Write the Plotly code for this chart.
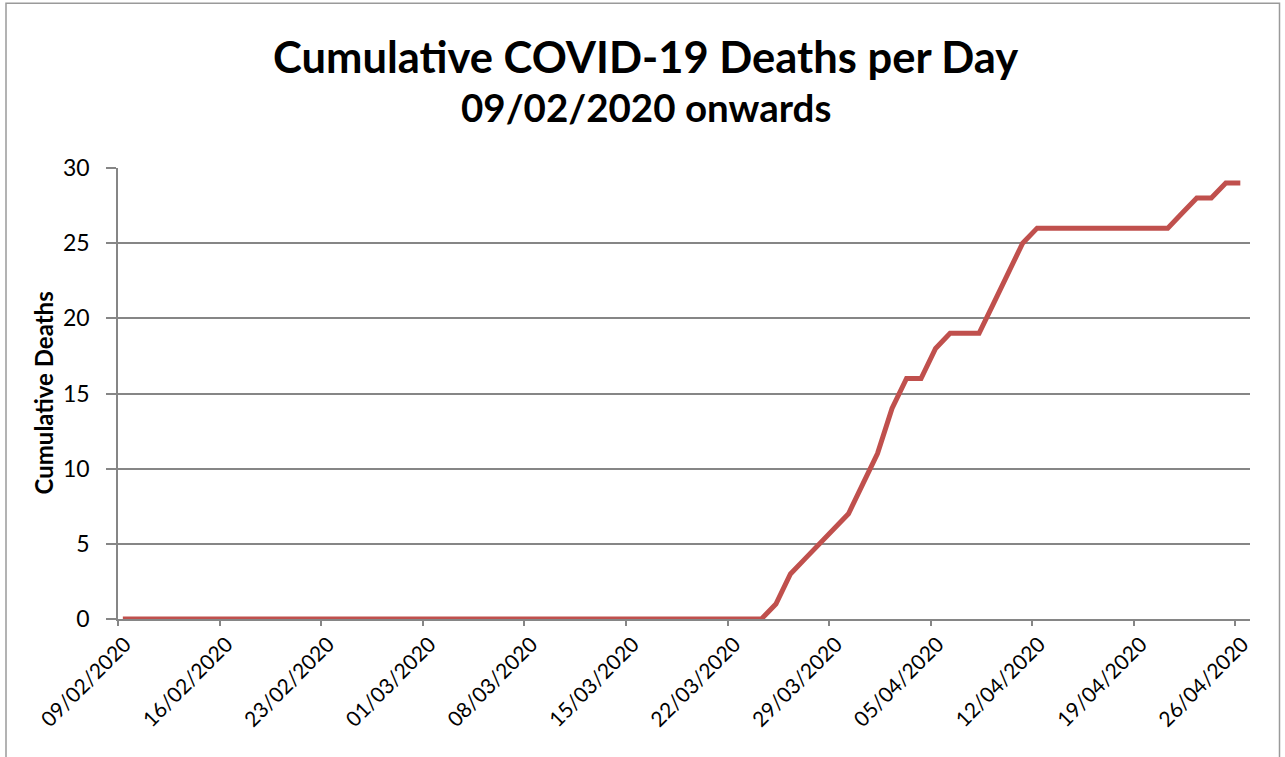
import plotly.graph_objects as go
import pandas as pd

# ---- data ----
start_date = "2020-02-09"
end_date = "2020-04-26"
dates = pd.date_range(start_date, end_date, freq="D")
cumulative_deaths = (
    [0] * 45
    + [1, 3, 4, 5, 6, 7, 9, 11, 14, 16, 16, 18, 19, 19, 19, 21, 23, 25, 26]
    + [26] * 9
    + [27, 28, 28, 29, 29]
)
title_line1 = "Cumulative COVID-19 Deaths per Day"
title_line2 = "09/02/2020 onwards"
y_title = "Cumulative Deaths"
y_ticks = [0, 5, 10, 15, 20, 25, 30]

FONT = "Lato"
GRID = "#868686"

W, H = 1285, 757
ML, MR, MT, MB = 118, 35, 168, 138
plot_w = W - ML - MR
plot_h = H - MT - MB


def px_x(px):
    return (px - ML) / plot_w


def px_y(py):
    return (H - MB - py) / plot_h


# the source records carry a morning timestamp, so points sit just after each day tick
x_vals = dates + pd.Timedelta(hours=8)

fig = go.Figure()
fig.add_trace(go.Scatter(
    x=x_vals, y=cumulative_deaths, mode="lines",
    line=dict(color="#C0504D", width=5),
    showlegend=False,
))

fig.update_layout(
    width=W, height=H,
    margin=dict(l=ML, r=MR, t=MT, b=MB, autoexpand=False),
    paper_bgcolor="white", plot_bgcolor="white",
    font=dict(family=FONT, color="black"),
    annotations=[
        dict(text="<b>" + title_line1 + "</b>", x=px_x(645), y=px_y(56),
             xref="paper", yref="paper", xanchor="center", yanchor="middle",
             showarrow=False, font=dict(size=43.5, family=FONT)),
        dict(text="<b>" + title_line2 + "</b>", x=px_x(646), y=px_y(107),
             xref="paper", yref="paper", xanchor="center", yanchor="middle",
             showarrow=False, font=dict(size=38.5, family=FONT)),
        dict(text="<b>" + y_title + "</b>", x=px_x(43), y=px_y(393.5),
             xref="paper", yref="paper", xanchor="center", yanchor="middle",
             textangle=-90, showarrow=False, font=dict(size=24, family=FONT)),
    ],
    shapes=[
        dict(type="rect", xref="paper", yref="paper",
             x0=px_x(6), x1=px_x(1279.5), y0=px_y(800), y1=px_y(3.3),
             line=dict(color="#9a9a9a", width=1.5), fillcolor="rgba(0,0,0,0)"),
    ],
)

fig.update_xaxes(
    type="date", automargin=False,
    range=[start_date, "2020-04-27"],
    tick0=start_date, dtick=7 * 24 * 3600 * 1000,
    tickformat="%d/%m/%Y", tickangle=-45,
    tickfont=dict(size=21, family=FONT, color="black"),
    ticks="outside", ticklen=5, tickcolor=GRID, tickwidth=1.5,
    ticklabelshift=7, ticklabelstandoff=-2,
    showline=True, linecolor=GRID, linewidth=1.5,
    showgrid=False, zeroline=False,
)
fig.update_yaxes(
    automargin=False,
    range=[0, 30], tickvals=y_ticks,
    tickfont=dict(size=23, family=FONT, color="black"),
    ticks="outside", ticklen=10, tickcolor=GRID, tickwidth=1.5,
    ticklabelstandoff=12,
    showline=True, linecolor=GRID, linewidth=1.5,
    showgrid=True, gridcolor=GRID, gridwidth=1.5,
    zeroline=False,
)

fig.write_html(
    "out.html",
    config={"displayModeBar": False},
    post_script="document.body.style.margin='0';document.body.style.overflow='hidden';",
)
